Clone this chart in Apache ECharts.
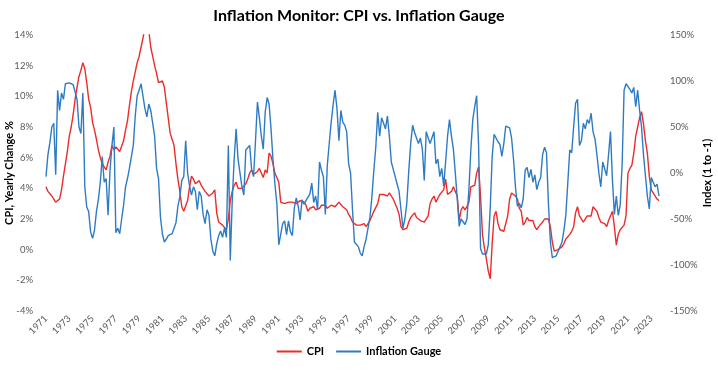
<!DOCTYPE html>
<html>
<head>
<meta charset="utf-8">
<script src="https://cdn.jsdelivr.net/npm/echarts@6/dist/echarts.min.js"></script>
<style>html,body{margin:0;padding:0;background:#fff;}#c{width:718px;height:373px;}</style>
</head>
<body>
<div id="c"></div>
<script>
// Bimonthly samples (Jan, Mar, May, Jul, Sep, Nov), 1971-01 .. 2023-09
const firstYear = 1971;
const lastYear = 2023;
const monthsInYear = ['01', '03', '05', '07', '09', '11'];

// CPI, yearly change % (left axis)
const cpi1970s = [
  4.1, 3.8, 3.7, 3.5, 3.3, 3.1,
  3.0, 3.3, 3.9, 4.8, 5.6, 6.4,
  7.4, 8.0, 8.8, 9.8, 10.6, 11.3,
  11.7, 12.2, 11.8, 10.9, 9.8, 9.3,
  8.3, 7.8, 7.2, 6.5, 6.0, 5.6,
  5.4, 5.2, 5.7, 6.1, 6.8, 6.5,
  6.7, 6.6, 6.4, 6.5, 7.1, 7.8,
  8.4, 9.4, 10.3, 11.0, 11.6, 12.2,
  12.6, 13.2, 13.8, 14.5, 14.8, 14.3
];
const cpi1980s = [
  13.2, 12.6, 12.0, 11.5, 10.9, 10.9,
  11.0, 10.6, 9.6, 8.6, 7.6, 7.2,
  6.8, 5.6, 4.6, 3.8, 2.8, 2.5,
  2.6, 3.2, 4.1, 4.8, 4.6, 4.3,
  4.3, 4.5, 4.2, 4.2, 3.8, 3.9,
  3.5, 3.6, 3.7, 3.9, 2.4, 1.8,
  1.7, 1.6, 1.6, 1.3, 2.0, 3.2,
  3.8, 4.2, 4.4, 4.0, 4.1, 4.0,
  4.1, 4.3, 4.6, 5.0, 5.2, 4.9,
  4.8, 5.1, 5.3, 5.2, 4.7, 5.2
];
const cpi1990s = [
  5.0, 6.3, 6.1, 5.6, 5.0, 4.7,
  4.4, 3.1, 3.0, 3.0, 3.1, 3.1,
  3.0, 3.1, 3.0, 3.0, 3.1, 3.2,
  3.3, 3.1, 2.9, 2.5, 2.7, 2.7,
  2.8, 2.6, 2.6, 2.7, 2.9, 3.0,
  2.9, 2.7, 2.8, 2.9, 2.8, 2.8,
  2.9, 3.1, 3.0, 2.8, 2.9, 2.6,
  2.3, 2.1, 1.8, 1.7, 1.6, 1.5,
  1.6, 1.7, 1.7, 1.5, 1.6, 1.9,
  2.2, 2.5, 2.6, 3.0, 3.6, 3.5
];
const cpi2000s = [
  3.6, 3.7, 3.5, 3.7, 3.5, 3.3,
  3.0, 2.7, 2.3, 1.5, 1.3, 1.2,
  1.4, 1.8, 2.1, 2.2, 2.4, 2.1,
  2.0, 1.9, 1.9, 1.8, 1.8, 2.2,
  3.0, 3.3, 3.5, 3.1, 3.0, 3.6,
  3.7, 3.9, 4.6, 3.6, 3.7, 3.8,
  4.1, 3.8, 3.5, 1.9, 2.6, 2.8,
  2.6, 2.8, 3.1, 4.1, 4.1, 4.2,
  5.0, 5.4, 3.5, 1.0, 0.1, -0.6,
  -1.4, -1.9, 0.4, 2.2, 2.5, 1.7
];
const cpi2010s = [
  1.3, 1.2, 1.2, 1.1, 2.2, 3.3,
  3.7, 3.8, 3.5, 3.3, 2.7, 2.5,
  1.6, 1.8, 2.1, 1.9, 1.8, 1.9,
  1.5, 1.3, 1.5, 1.5, 1.8, 2.0,
  2.1, 2.0, 1.5, 0.5, -0.1, -0.1,
  0.0, 0.1, 0.2, 0.4, 0.7, 0.8,
  1.0, 1.2, 1.5, 2.4, 2.8, 2.2,
  2.1, 1.8, 1.9, 2.2, 2.1, 2.2,
  2.8, 2.7, 2.5, 2.1, 1.8, 1.9,
  1.7, 1.5, 1.9, 2.2, 2.5, 1.5
];
const cpi2020s = [
  0.3, 1.0, 1.3, 1.4, 1.6, 2.2,
  5.0, 5.3, 5.5, 6.3, 7.4, 8.0,
  8.6, 9.0, 8.2, 7.1, 6.3, 4.8,
  3.9, 3.7, 3.8, 3.3, 3.2
];

// Inflation Gauge, index % (right axis)
const gauge1970s = [
  -4, 20, 33, 50, 54, -2,
  90, 68, 87, 80, 97, 99,
  98, 97, 96, 96, 80, 50,
  43, 87, -15, -37, -42, -64,
  -71, -62, -42, -29, -10, 18,
  -10, -6, -46, 3, 30, 50,
  -65, -60, -66, -50, -35, -15,
  -6, 5, 3, 30, 62, 84,
  90, 97, 98, 70, 61, 75
];
const gauge1980s = [
  68, 70, 40, 5, -6, -48,
  -66, -75, -72, -68, -66, -66,
  -64, -54, -36, -26, -8, -4,
  35, 0, -14, -24, -15, -20,
  -40, -20, -25, -45, -55, -40,
  -46, -72, -85, -90, -77, -68,
  -63, -70, -60, -70, 30, -95,
  -30, 15, 48, 15, 16, -15,
  -24, 25, 24, 30, 4, -4,
  35, 77, 60, 40, 26, 66
];
const gauge1990s = [
  82, 75, 48, 15, -12, -33,
  -78, -80, -55, -52, -67, -52,
  -64, -68, -38, -27, -36, -51,
  -29, -34, -30, -31, -23, -11,
  -32, -25, -40, 12, 3, -4,
  -45, 8, 32, 55, 74, 90,
  70, 35, 68, 55, 52, 45,
  10, 0, -40, -75, -74, -80,
  -87, -90, -80, -72, -60, -48,
  -26, 3, 28, 66, 40, 60
];
const gauge2000s = [
  60, 48, 62, 40, 12, 14,
  -4, -12, -20, -40, -60, -50,
  -33, 2, 32, 52, 44, 42,
  32, 38, 26, -8, 45, 38,
  32, 30, 45, 10, 15, -4,
  5, -14, 12, 40, 58, 40,
  26, 0, -28, -58, -50, -50,
  -56, -50, -18, 25, 58, 72,
  84, 30, -82, -88, -90, -88,
  -78, -38, 18, 42, 42, 34
];
const gauge2010s = [
  31, 18, 32, 51, 50, 49,
  38, 15, -15, -36, -33, -38,
  -28, 3, 6, -5, 4, -10,
  -2, -18, -10, -5, 20, 28,
  22, -33, -75, -92, -90, -90,
  -85, -84, -75, -62, -45, -10,
  25, 22, 50, 76, 80, 30,
  35, 54, 48, 58, 54, 65,
  45, 37, 20, 0, -15, 12,
  12, -3, 20, 45, -8, -45
];
const gauge2020s = [
  -25, -46, -35, 10, 90, 97,
  97, 91, 87, 93, 72, 90,
  68, 50, 20, -3, -25, -39,
  -5, -7, -15, -12, -25
];

const cpiValues = [].concat(cpi1970s, cpi1980s, cpi1990s, cpi2000s, cpi2010s, cpi2020s);
const gaugeValues = [].concat(gauge1970s, gauge1980s, gauge1990s, gauge2000s, gauge2010s, gauge2020s);

const categories = [];
for (let y = firstYear; y <= lastYear; y++) {
  for (const m of monthsInYear) {
    if (categories.length < cpiValues.length) categories.push(y + '-' + m);
  }
}

const leftTicks = { min: -4, max: 14, interval: 2 };
const rightTicks = { min: -150, max: 150, interval: 50 };

const FONT = 'Lato, "Noto Sans", sans-serif';
const chart = echarts.init(document.getElementById('c'), null, { renderer: 'canvas' });
chart.setOption({
  animation: false,
  backgroundColor: '#ffffff',
  textStyle: { fontFamily: FONT },
  title: {
    text: 'Inflation Monitor: CPI vs. Inflation Gauge',
    left: 'center',
    top: 3,
    textStyle: { fontFamily: FONT, fontSize: 16, fontWeight: 'bold', color: '#000000' }
  },
  legend: {
    bottom: 11,
    left: 'center',
    icon: 'rect',
    itemWidth: 25,
    itemHeight: 2,
    itemGap: 12,
    textStyle: { fontFamily: FONT, fontSize: 11, fontWeight: 'bold', color: '#000000' },
    data: ['CPI', 'Inflation Gauge']
  },
  grid: { left: 46, right: 59, top: 35, bottom: 62, containLabel: false, outerBoundsMode: 'none' },
  xAxis: {
    type: 'category',
    data: categories,
    boundaryGap: false,
    axisLine: { show: false },
    axisTick: { show: false },
    splitLine: { show: false },
    axisLabel: {
      interval: 11,
      rotate: 45,
      margin: 6,
      color: '#595959',
      fontSize: 9.5,
      fontFamily: FONT,
      formatter: function (v) { return v.slice(0, 4); }
    }
  },
  yAxis: [
    {
      type: 'value',
      min: leftTicks.min, max: leftTicks.max, interval: leftTicks.interval,
      position: 'left',
      axisLine: { show: false },
      axisTick: { show: false },
      splitLine: { show: false },
      axisLabel: { formatter: '{value}%', color: '#595959', fontSize: 9.5, fontFamily: FONT, margin: 13 },
      name: 'CPI, Yearly Change %',
      nameLocation: 'middle',
      nameGap: 31,
      nameMoveOverlap: false,
      nameTextStyle: { fontFamily: FONT, fontSize: 11, fontWeight: 'bold', color: '#000000' }
    },
    {
      type: 'value',
      min: rightTicks.min, max: rightTicks.max, interval: rightTicks.interval,
      position: 'right',
      axisLine: { show: false },
      axisTick: { show: false },
      splitLine: { show: false },
      axisLabel: { formatter: '{value}%', color: '#595959', fontSize: 9.5, fontFamily: FONT, margin: 11 },
      name: 'Index (1 to -1)',
      nameLocation: 'middle',
      nameGap: 43,
      nameRotate: 90,
      nameMoveOverlap: false,
      nameTextStyle: { fontFamily: FONT, fontSize: 11, fontWeight: 'bold', color: '#000000' }
    }
  ],
  series: [
    {
      name: 'CPI',
      type: 'line',
      yAxisIndex: 0,
      data: cpiValues,
      showSymbol: false,
      symbol: 'none',
      clip: true,
      lineStyle: { color: '#EC2B2B', width: 1.4 },
      itemStyle: { color: '#EC2B2B' },
      z: 2
    },
    {
      name: 'Inflation Gauge',
      type: 'line',
      yAxisIndex: 1,
      data: gaugeValues,
      showSymbol: false,
      symbol: 'none',
      clip: true,
      lineStyle: { color: '#2E7BC4', width: 1.4 },
      itemStyle: { color: '#2E7BC4' },
      z: 3
    }
  ]
});
</script>
</body>
</html>
